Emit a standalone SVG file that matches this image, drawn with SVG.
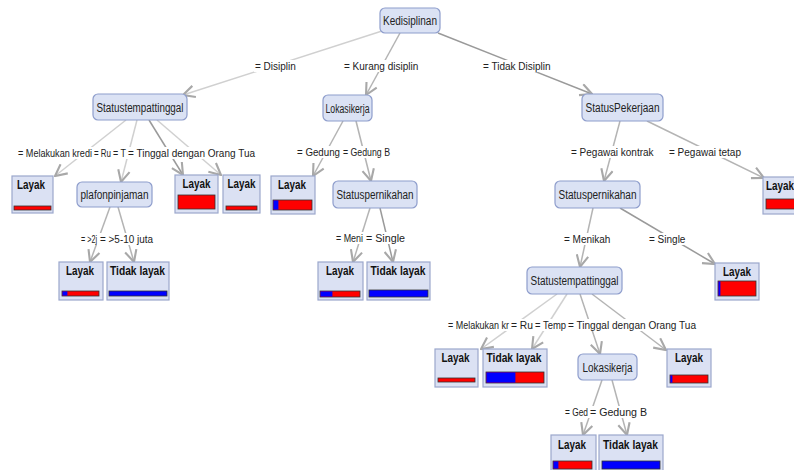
<svg xmlns="http://www.w3.org/2000/svg" width="794" height="470" viewBox="0 0 794 470">
<style>
.e{fill:none;stroke:#b4b4b4;stroke-width:1.5;marker-end:url(#ah)}
.lt{stroke:#d0d0d0}
.dk{stroke:#9a9a9a}
.lb{font-family:"Liberation Sans",Arial,sans-serif;font-size:10px;fill:#222}
.bg{fill:#ffffff}
.n{fill:#dbe2f4;stroke:#8e9dcc;stroke-width:1.2}
.nt{font-family:"Liberation Sans",Arial,sans-serif;font-size:12px;fill:#222;text-anchor:middle}
.lf{fill:#dbe1f3;stroke:#9ba7cc;stroke-width:1.2}
.lft{font-family:"Liberation Sans",Arial,sans-serif;font-size:12px;font-weight:bold;fill:#111;text-anchor:middle}
.r{fill:#ff0000;stroke:#333;stroke-width:0.8}
.b{fill:#0000ff;stroke:#333;stroke-width:0.8}
.bo{fill:#0000ff}
</style>
<defs>
<marker id="ah" markerUnits="userSpaceOnUse" markerWidth="14" markerHeight="14" viewBox="0 0 12 12" refX="11" refY="6" orient="auto">
<path d="M1,1 L11,6 L1,11" fill="none" stroke="#a8a8a8" stroke-width="1.8"/>
</marker>
</defs>
<rect width="794" height="470" fill="#ffffff"/>
<g id="connectors">
<line class="e lt" x1="382" y1="31" x2="183" y2="95"/>
<line class="e" x1="400" y1="33" x2="366" y2="95"/>
<line class="e dk" x1="438" y1="33" x2="592" y2="94"/>
<line class="e lt" x1="126" y1="120" x2="55" y2="176"/>
<line class="e lt" x1="137" y1="120" x2="121" y2="182"/>
<line class="e dk" x1="149" y1="120" x2="183" y2="175"/>
<line class="e lt" x1="157" y1="120" x2="221" y2="175"/>
<line class="e" x1="343" y1="121" x2="313" y2="176"/>
<line class="e" x1="356" y1="121" x2="371" y2="181"/>
<line class="e" x1="620" y1="121" x2="604" y2="181"/>
<line class="e" x1="647" y1="121" x2="764" y2="178"/>
<line class="e" x1="110" y1="207" x2="90" y2="262"/>
<line class="e" x1="118" y1="207" x2="134" y2="262"/>
<line class="e" x1="370" y1="208" x2="353" y2="262"/>
<line class="e dk" x1="380" y1="208" x2="393" y2="262"/>
<line class="e" x1="593" y1="208" x2="580" y2="267"/>
<line class="e dk" x1="620" y1="208" x2="715" y2="264"/>
<line class="e lt" x1="557" y1="294" x2="481" y2="349"/>
<line class="e lt" x1="567" y1="294" x2="532" y2="349"/>
<line class="e" x1="580" y1="294" x2="600" y2="354"/>
<line class="e" x1="592" y1="294" x2="666" y2="350"/>
<line class="e" x1="602" y1="380" x2="583" y2="435"/>
<line class="e" x1="612" y1="380" x2="627" y2="435"/>
</g>
<g id="edge-labels">
<rect class="bg" x="254" y="60" width="43" height="12"/><text class="lb" x="255" y="69.5">= Disiplin</text>
<rect class="bg" x="343" y="60" width="77" height="12"/><text class="lb" x="344" y="69.5">= Kurang disiplin</text>
<rect class="bg" x="482" y="60" width="70" height="12"/><text class="lb" x="483" y="69.5">= Tidak Disiplin</text>

<rect class="bg" x="17" y="147" width="240" height="12"/>
<text class="lb" x="18" y="156.5" textLength="74" lengthAdjust="spacingAndGlyphs">= Melakukan kredi</text>
<text class="lb" x="94" y="156.5" textLength="17" lengthAdjust="spacingAndGlyphs">= Ru</text>
<text class="lb" x="113" y="156.5" textLength="13" lengthAdjust="spacingAndGlyphs">= T</text>
<text class="lb" x="128" y="156.5" textLength="127" lengthAdjust="spacingAndGlyphs">= Tinggal dengan Orang Tua</text>

<rect class="bg" x="296" y="146" width="96" height="12"/>
<text class="lb" x="297" y="155.5" textLength="43" lengthAdjust="spacingAndGlyphs">= Gedung</text>
<text class="lb" x="343" y="155.5" textLength="47" lengthAdjust="spacingAndGlyphs">= Gedung B</text>

<rect class="bg" x="570" y="146" width="81" height="12"/><text class="lb" x="571" y="155.5">= Pegawai kontrak</text>
<rect class="bg" x="668" y="146" width="74" height="12"/><text class="lb" x="669" y="155.5">= Pegawai tetap</text>

<rect class="bg" x="80" y="233" width="75" height="12"/>
<text class="lb" x="81" y="242.5" textLength="16" lengthAdjust="spacingAndGlyphs">= &gt;2j</text>
<text class="lb" x="100" y="242.5" textLength="53" lengthAdjust="spacingAndGlyphs">= &gt;5-10 juta</text>

<rect class="bg" x="335" y="232" width="72" height="12"/>
<text class="lb" x="336" y="241.5" textLength="27" lengthAdjust="spacingAndGlyphs">= Meni</text>
<text class="lb" x="366" y="241.5" textLength="39" lengthAdjust="spacingAndGlyphs">= Single</text>

<rect class="bg" x="563" y="233" width="48" height="12"/><text class="lb" x="564" y="242.5">= Menikah</text>
<rect class="bg" x="648" y="233" width="40" height="12"/><text class="lb" x="649" y="242.5">= Single</text>

<rect class="bg" x="447" y="319" width="251" height="12"/>
<text class="lb" x="448" y="328.5" textLength="61" lengthAdjust="spacingAndGlyphs">= Melakukan kr</text>
<text class="lb" x="511" y="328.5" textLength="22" lengthAdjust="spacingAndGlyphs">= Ru</text>
<text class="lb" x="535" y="328.5" textLength="31" lengthAdjust="spacingAndGlyphs">= Temp</text>
<text class="lb" x="568" y="328.5" textLength="128" lengthAdjust="spacingAndGlyphs">= Tinggal dengan Orang Tua</text>

<rect class="bg" x="564" y="406" width="85" height="12"/>
<text class="lb" x="565" y="415.5" textLength="23" lengthAdjust="spacingAndGlyphs">= Ged</text>
<text class="lb" x="590" y="415.5" textLength="57" lengthAdjust="spacingAndGlyphs">= Gedung B</text>
</g>
<g id="node-kedisiplinan"><rect class="n" x="380" y="8" width="60" height="25" rx="5"/><text class="nt" x="410" y="25" textLength="54" lengthAdjust="spacingAndGlyphs">Kedisiplinan</text></g>
<g id="node-statustempattinggal-1"><rect class="n" x="93" y="94" width="94" height="26" rx="5"/><text class="nt" x="140" y="111.5" textLength="87" lengthAdjust="spacingAndGlyphs">Statustempattinggal</text></g>
<g id="node-lokasikerja-1"><rect class="n" x="323" y="95" width="49" height="26" rx="5"/><text class="nt" x="347.5" y="112.5" textLength="44" lengthAdjust="spacingAndGlyphs">Lokasikerja</text></g>
<g id="node-statuspekerjaan"><rect class="n" x="582" y="94" width="81" height="27" rx="5"/><text class="nt" x="622.5" y="112" textLength="74" lengthAdjust="spacingAndGlyphs">StatusPekerjaan</text></g>
<g id="node-plafonpinjaman"><rect class="n" x="77" y="182" width="75" height="25" rx="5"/><text class="nt" x="114.5" y="199" textLength="68" lengthAdjust="spacingAndGlyphs">plafonpinjaman</text></g>
<g id="node-statuspernikahan-1"><rect class="n" x="333" y="181" width="84" height="27" rx="5"/><text class="nt" x="375" y="199" textLength="77" lengthAdjust="spacingAndGlyphs">Statuspernikahan</text></g>
<g id="node-statuspernikahan-2"><rect class="n" x="555" y="181" width="85" height="27" rx="5"/><text class="nt" x="597.5" y="199" textLength="78" lengthAdjust="spacingAndGlyphs">Statuspernikahan</text></g>
<g id="node-statustempattinggal-2"><rect class="n" x="527" y="267" width="95" height="27" rx="5"/><text class="nt" x="574.5" y="285" textLength="88" lengthAdjust="spacingAndGlyphs">Statustempattinggal</text></g>
<g id="node-lokasikerja-2"><rect class="n" x="578" y="354" width="59" height="26" rx="5"/><text class="nt" x="607.5" y="371.5" textLength="50" lengthAdjust="spacingAndGlyphs">Lokasikerja</text></g>

<g id="leaf-l1"><rect class="lf" x="12" y="176" width="41" height="37"/><text class="lft" x="31" y="189" textLength="28" lengthAdjust="spacingAndGlyphs">Layak</text><rect class="r" x="14" y="206" width="37" height="4"/></g>
<g id="leaf-l3"><rect class="lf" x="175" y="175" width="43" height="38"/><text class="lft" x="196.5" y="188" textLength="28" lengthAdjust="spacingAndGlyphs">Layak</text><rect class="r" x="178" y="195" width="37" height="14"/></g>
<g id="leaf-l4"><rect class="lf" x="223" y="175" width="37" height="38"/><text class="lft" x="241.5" y="188" textLength="28" lengthAdjust="spacingAndGlyphs">Layak</text><rect class="r" x="226" y="206" width="31" height="4"/></g>
<g id="leaf-p1"><rect class="lf" x="59" y="262" width="44" height="38"/><text class="lft" x="80" y="275" textLength="28" lengthAdjust="spacingAndGlyphs">Layak</text><rect class="r" x="62" y="291" width="37" height="5"/><rect class="bo" x="62.4" y="291.4" width="5" height="4.2"/></g>
<g id="leaf-p2"><rect class="lf" x="107" y="262" width="62" height="38"/><text class="lft" x="137.5" y="275" textLength="55" lengthAdjust="spacingAndGlyphs">Tidak layak</text><rect class="b" x="109" y="291" width="58" height="5"/></g>
<g id="leaf-k1"><rect class="lf" x="271" y="176" width="44" height="38"/><text class="lft" x="292" y="189" textLength="28" lengthAdjust="spacingAndGlyphs">Layak</text><rect class="r" x="273" y="200" width="39" height="10"/><rect class="bo" x="273.4" y="200.4" width="5" height="9.2"/></g>
<g id="leaf-s1"><rect class="lf" x="318" y="262" width="45" height="38"/><text class="lft" x="340" y="275" textLength="28" lengthAdjust="spacingAndGlyphs">Layak</text><rect class="r" x="320" y="291" width="40" height="6"/><rect class="bo" x="320.4" y="291.4" width="12" height="5.2"/></g>
<g id="leaf-s2"><rect class="lf" x="367" y="262" width="63" height="38"/><text class="lft" x="398" y="275" textLength="55" lengthAdjust="spacingAndGlyphs">Tidak layak</text><rect class="b" x="369" y="290" width="59" height="7"/></g>
<g id="leaf-t"><rect class="lf" x="763" y="177" width="40" height="37"/><text class="lft" x="766" y="190" style="text-anchor:start" textLength="28" lengthAdjust="spacingAndGlyphs">Layak</text><rect class="r" x="766" y="199" width="36" height="10"/></g>
<g id="leaf-sr"><rect class="lf" x="715" y="263" width="44" height="37"/><text class="lft" x="737" y="276" textLength="28" lengthAdjust="spacingAndGlyphs">Layak</text><rect class="r" x="718" y="281" width="38" height="15"/><rect class="bo" x="718.4" y="281.4" width="2" height="14.2"/></g>
<g id="leaf-r1"><rect class="lf" x="435" y="349" width="43" height="38"/><text class="lft" x="455.5" y="362" textLength="28" lengthAdjust="spacingAndGlyphs">Layak</text><rect class="r" x="438" y="378" width="37" height="4"/></g>
<g id="leaf-r2"><rect class="lf" x="483" y="349" width="64" height="38"/><text class="lft" x="514" y="362" textLength="55" lengthAdjust="spacingAndGlyphs">Tidak layak</text><rect class="r" x="486" y="372" width="58" height="11"/><rect class="bo" x="486.4" y="372.4" width="29" height="10.2"/></g>
<g id="leaf-r4"><rect class="lf" x="667" y="349" width="44" height="38"/><text class="lft" x="689" y="362" textLength="28" lengthAdjust="spacingAndGlyphs">Layak</text><rect class="r" x="670" y="375" width="38" height="8"/><rect class="bo" x="670.4" y="375.4" width="2" height="7.2"/></g>
<g id="leaf-g1"><rect class="lf" x="551" y="435" width="45" height="40"/><text class="lft" x="572" y="449" textLength="28" lengthAdjust="spacingAndGlyphs">Layak</text><rect class="r" x="553" y="461" width="39" height="8"/><rect class="bo" x="553.4" y="461.4" width="5" height="7.2"/></g>
<g id="leaf-g2"><rect class="lf" x="599" y="435" width="64" height="40"/><text class="lft" x="630.5" y="449" textLength="55" lengthAdjust="spacingAndGlyphs">Tidak layak</text><rect class="b" x="602" y="461" width="58" height="8"/></g>
</svg>
